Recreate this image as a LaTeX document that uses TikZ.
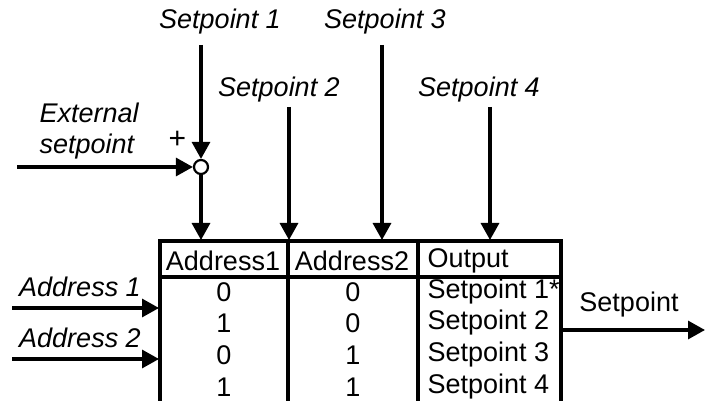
\documentclass[tikz,border=0pt]{standalone}
\usepackage{fontspec}
\setmainfont{Liberation Sans}
\usetikzlibrary{arrows.meta}
\begin{document}
\begin{tikzpicture}[x=1pt,y=-1pt,
  font=\fontsize{27}{31}\selectfont,
  line width=3.2pt,
  arr/.style={-{Triangle[length=17pt,width=18pt]}, line width=3.2pt},
  lbl/.style={inner sep=0pt},
  ilbl/.style={inner sep=0pt, font=\fontsize{27}{31}\selectfont\itshape},
  tbl/.style={line width=3.2pt},
  sumnode/.style={circle, draw, fill=white, line width=2.2pt, minimum size=14pt, inner sep=0pt}]
\useasboundingbox (0,0) rectangle (705,401);

% table frame coordinates
\coordinate (tl) at (160,241);
\coordinate (tr) at (561,241);
\coordinate (bl) at (160,401);
\coordinate (br) at (561,401);
\coordinate (c1t) at (288,241);
\coordinate (c1b) at (288,401);
\coordinate (c2t) at (418,241);
\coordinate (c2b) at (418,401);
\coordinate (hl) at (160,277);
\coordinate (hr) at (561,277);

\draw[tbl] (bl) -- (tl) -- (tr) -- (br);
\draw[tbl] (c1t) -- (c1b);
\draw[tbl] (c2t) -- (c2b);
\draw[tbl] (hl) -- (hr);

% header
\node[lbl] (h1) at (223,261) {Address1};
\node[lbl] (h2) at (352,261) {Address2};
\node[lbl, anchor=west] (h3) at (426,261) {Output};

% rows
\node[lbl] (r1a) at (224,292) {0};
\node[lbl] (r1b) at (353,292) {0};
\node[lbl, anchor=west] (r1c) at (426,292) {Setpoint 1*};
\node[lbl] (r2a) at (224,323) {1};
\node[lbl] (r2b) at (353,323) {0};
\node[lbl, anchor=west] (r2c) at (426,323) {Setpoint 2};
\node[lbl] (r3a) at (224,355) {0};
\node[lbl] (r3b) at (353,355) {1};
\node[lbl, anchor=west] (r3c) at (426,355) {Setpoint 3};
\node[lbl] (r4a) at (224,387) {1};
\node[lbl] (r4b) at (353,387) {1};
\node[lbl, anchor=west] (r4c) at (426,387) {Setpoint 4};

% setpoint labels
\node[ilbl] (sp1) at (220,22) {Setpoint 1};
\node[ilbl] (sp3) at (385,22) {Setpoint 3};
\node[ilbl] (sp2) at (279,90) {Setpoint 2};
\node[ilbl] (sp4) at (479,90) {Setpoint 4};

% summing junction
\node[sumnode] (sum) at (201,167) {};
\node[lbl, font=\fontsize{30}{32}\selectfont] (plus) at (177.5,140) {+};
\node[ilbl, anchor=west, align=left] (ext) at (38,131) {External\\setpoint};

% line start / end coordinates
\coordinate (s1s) at (201,45);
\coordinate (s1e) at (201,240);
\coordinate (s2s) at (289,107);
\coordinate (s2e) at (289,240);
\coordinate (s3s) at (382,45);
\coordinate (s3e) at (382,240);
\coordinate (s4s) at (490,107);
\coordinate (s4e) at (490,240);
\coordinate (exs) at (17,167);

\draw[arr] (s1s) -- (sum.north);
\draw[arr] (sum.south) -- (s1e);
\draw[arr] (exs) -- (sum.west);
\draw[arr] (s2s) -- (s2e);
\draw[arr] (s3s) -- (s3e);
\draw[arr] (s4s) -- (s4e);

% address inputs
\node[ilbl] (a1) at (80,287) {Address 1};
\node[ilbl] (a2) at (80,338) {Address 2};
\coordinate (a1s) at (12,308);
\coordinate (a1e) at (159,308);
\coordinate (a2s) at (12,359);
\coordinate (a2e) at (159,359);
\draw[arr] (a1s) -- (a1e);
\draw[arr] (a2s) -- (a2e);

% output
\coordinate (os) at (561,330);
\coordinate (oe) at (705,330);
\draw[arr] (os) -- (oe);
\node[lbl] (out) at (629,305) {Setpoint};
\end{tikzpicture}
\end{document}
